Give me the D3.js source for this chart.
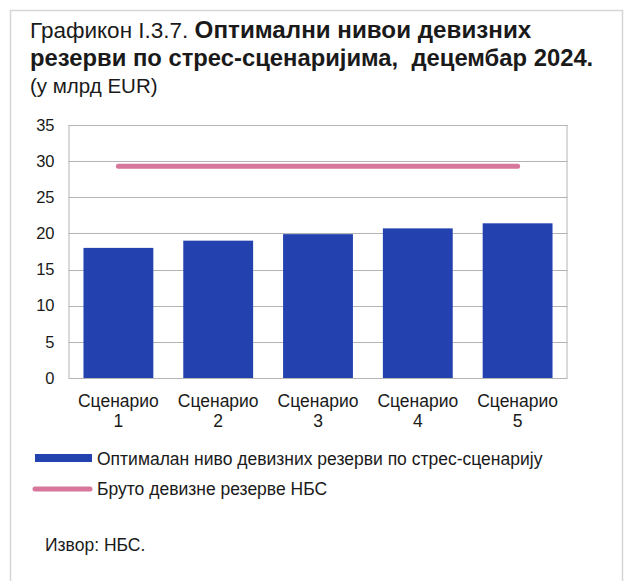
<!DOCTYPE html>
<html>
<head>
<meta charset="utf-8">
<script src="https://cdn.jsdelivr.net/npm/d3@7"></script>
<style>
  html, body { margin: 0; padding: 0; background: #fff; }
  svg { display: block; font-family: "Liberation Sans", Arial, sans-serif; }
</style>
</head>
<body>
<svg id="chart" width="628" height="581"></svg>
<script>
// Scenario categories and values (bn EUR)
const categories = ["Сценарио 1", "Сценарио 2", "Сценарио 3", "Сценарио 4", "Сценарио 5"];
const optimalReserves = [18.0, 19.0, 19.9, 20.7, 21.4];
const grossReserves = [29.3, 29.3, 29.3, 29.3, 29.3];
const yTicks = [0, 5, 10, 15, 20, 25, 30, 35];

const legendLabels = ["Оптималан ниво девизних резерви по стрес-сценарију", "Бруто девизне резерве НБС"];

const barColor = "#2342b0";
const lineColor = "#d8779c";
const gridColor = "#b4b4b4";
const textColor = "#1a1a1a";

const svg = d3.select("#chart");

// outer frame
svg.append("path")
  .attr("d", "M10.5,581 V10.5 H622.5 V581")
  .attr("fill", "none")
  .attr("stroke", "#d6d6d6")
  .attr("stroke-width", 1.5);

// title block
const title = svg.append("text").attr("x", 30).attr("y", 38).attr("fill", textColor);
title.append("tspan").attr("font-size", 22.5).text("Графикон I.3.7. ");
title.append("tspan").attr("font-size", 24.2).attr("font-weight", "bold").text("Оптимални нивои девизних");
svg.append("text").attr("x", 30).attr("y", 66).attr("font-size", 23.8).attr("font-weight", "bold")
  .attr("fill", textColor).attr("xml:space", "preserve").text("резерви по стрес-сценаријима,  децембар 2024.");
svg.append("text").attr("x", 30).attr("y", 93).attr("font-size", 20.5).attr("fill", textColor).text("(у млрд EUR)");

// plot area
const plot = { left: 68.5, right: 567.5, top: 125, bottom: 378 };

const x = d3.scaleBand().domain(categories).range([plot.left, plot.right]).paddingInner(0.3).paddingOuter(0.15);
const y = d3.scaleLinear().domain([0, 35]).range([plot.bottom, plot.top]);

// gridlines
svg.append("g").selectAll("line").data(yTicks).join("line")
  .attr("x1", plot.left).attr("x2", plot.right)
  .attr("y1", d => Math.round(y(d)) + 0.5).attr("y2", d => Math.round(y(d)) + 0.5)
  .attr("stroke", gridColor).attr("stroke-width", 1);

// plot border (left and right edges)
svg.append("line").attr("x1", plot.left + 0.5).attr("x2", plot.left + 0.5)
  .attr("y1", plot.top).attr("y2", plot.bottom).attr("stroke", gridColor);
svg.append("line").attr("x1", plot.right - 0.5).attr("x2", plot.right - 0.5)
  .attr("y1", plot.top).attr("y2", plot.bottom).attr("stroke", gridColor);

// y axis labels
const yAxis = d3.axisLeft(y).tickValues(yTicks).tickSize(0).tickPadding(14);
const yg = svg.append("g").attr("transform", `translate(${plot.left},0)`).call(yAxis);
yg.select(".domain").remove();
yg.selectAll("text").attr("font-size", 16.5).attr("font-family", "Liberation Sans, Arial, sans-serif").attr("fill", textColor);

// bars
svg.append("g").selectAll("rect").data(categories).join("rect")
  .attr("x", d => x(d))
  .attr("width", x.bandwidth())
  .attr("y", (d, i) => y(optimalReserves[i]))
  .attr("height", (d, i) => y(0) - y(optimalReserves[i]))
  .attr("fill", barColor);

// gross reserves line
const line = d3.line()
  .x((d, i) => x(categories[i]) + x.bandwidth() / 2)
  .y(d => y(d));
svg.append("path").datum(grossReserves)
  .attr("d", line)
  .attr("fill", "none")
  .attr("stroke", lineColor)
  .attr("stroke-width", 5)
  .attr("stroke-linecap", "round");

// x axis labels (two lines)
const xg = svg.append("g").selectAll("text").data(categories).join("text")
  .attr("x", d => x(d) + x.bandwidth() / 2)
  .attr("y", 407)
  .attr("text-anchor", "middle")
  .attr("font-size", 17.5)
  .attr("fill", textColor);
xg.each(function (d) {
  const parts = d.split(" ");
  const t = d3.select(this);
  t.append("tspan").attr("x", x(d) + x.bandwidth() / 2).text(parts[0]);
  t.append("tspan").attr("x", x(d) + x.bandwidth() / 2).attr("dy", 20).text(parts[1]);
});

// legend
const legend = svg.append("g");
legend.append("rect").attr("x", 35).attr("y", 454).attr("width", 57).attr("height", 8).attr("fill", barColor);
legend.append("text").attr("x", 97).attr("y", 465).attr("font-size", 17.5).attr("fill", textColor).text(legendLabels[0]);
legend.append("line").attr("x1", 35).attr("x2", 90).attr("y1", 489).attr("y2", 489)
  .attr("stroke", lineColor).attr("stroke-width", 5).attr("stroke-linecap", "round");
legend.append("text").attr("x", 97).attr("y", 495).attr("font-size", 17.5).attr("fill", textColor).text(legendLabels[1]);

// source note
svg.append("text").attr("x", 45).attr("y", 551).attr("font-size", 17.5).attr("fill", textColor).text("Извор: НБС.");
</script>
</body>
</html>
